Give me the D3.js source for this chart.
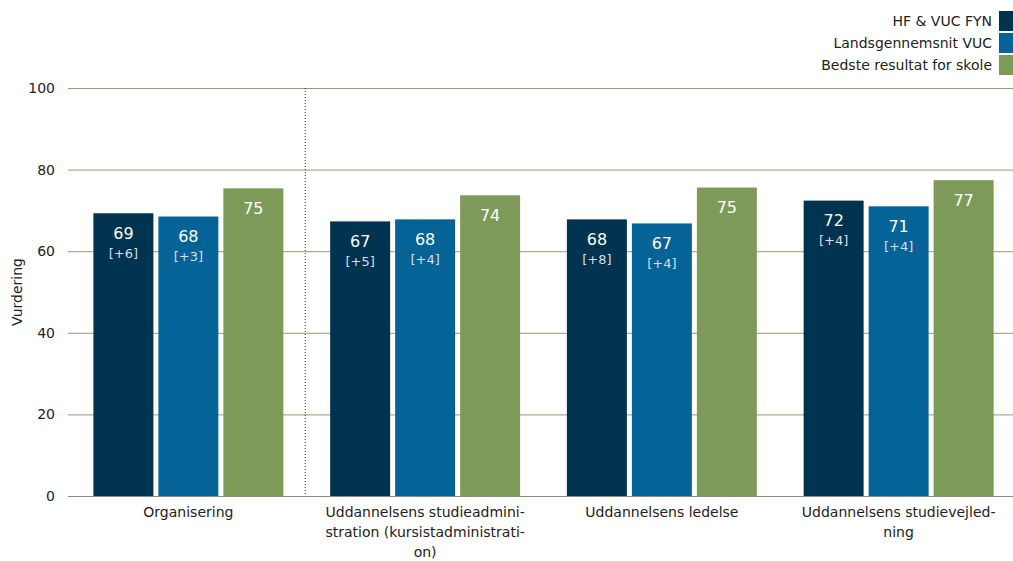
<!DOCTYPE html>
<html>
<head>
<meta charset="utf-8">
<script src="https://cdn.jsdelivr.net/npm/d3@7"></script>
<style>
  body { margin: 0; background: #fff; }
  text { font-family: "DejaVu Sans", Verdana, sans-serif; }
</style>
</head>
<body>
<div id="chart"></div>
<script>
var width = 1013,
    height = 561;

// data
var categories = [
  ["Organisering"],
  ["Uddannelsens studieadmini-", "stration (kursistadministrati-", "on)"],
  ["Uddannelsens ledelse"],
  ["Uddannelsens studievejled-", "ning"]
];
var seriesNames = ["HF & VUC FYN", "Landsgennemsnit VUC", "Bedste resultat for skole"];
var fynValues = [69.3, 67.3, 67.8, 72.4];
var landsValues = [68.5, 67.8, 66.8, 71.0];
var bedsteValues = [75.4, 73.7, 75.6, 77.4];
var fynLabels = ["69", "67", "68", "72"];
var landsLabels = ["68", "68", "67", "71"];
var bedsteLabels = ["75", "74", "75", "77"];
var fynDiff = ["[+6]", "[+5]", "[+8]", "[+4]"];
var landsDiff = ["[+3]", "[+4]", "[+4]", "[+4]"];
var yTicks = [0, 20, 40, 60, 80, 100];

var colors = ["#003350", "#066398", "#7e9a58"];

var svg = d3.select("#chart")
    .append("svg")
    .attr("width", width)
    .attr("height", height);

var x0 = d3.scaleBand()
    .domain(d3.range(categories.length))
    .range([70, 1017])
    .paddingInner(0)
    .paddingOuter(0);

var x1 = d3.scaleBand()
    .domain(d3.range(3))
    .range([0, x0.bandwidth()])
    .paddingInner(0.077)
    .paddingOuter(0.36);

var y = d3.scaleLinear()
    .domain([0, 100])
    .range([496, 88]);

// gridlines
svg.append("g")
  .selectAll("line")
  .data(yTicks)
  .enter().append("line")
    .attr("x1", 68)
    .attr("x2", width)
    .attr("y1", function(d) { return y(d) + 0.5; })
    .attr("y2", function(d) { return y(d) + 0.5; })
    .attr("stroke", function(d) { return d === 0 ? "#8a8a80" : "#a39472"; })
    .attr("stroke-width", 1);

// y tick labels
svg.append("g")
  .selectAll("text")
  .data(yTicks)
  .enter().append("text")
    .attr("x", 55)
    .attr("y", function(d) { return y(d); })
    .attr("dy", "0.35em")
    .attr("text-anchor", "end")
    .attr("font-size", 14)
    .attr("fill", "#222")
    .text(function(d) { return d; });

svg.append("text")
    .attr("transform", "translate(22," + y(50) + ") rotate(-90)")
    .attr("text-anchor", "middle")
    .attr("font-size", 14)
    .attr("fill", "#222")
    .text("Vurdering");

// dotted separator
svg.append("line")
    .attr("x1", x0(1) - 1.5)
    .attr("x2", x0(1) - 1.5)
    .attr("y1", y(100))
    .attr("y2", y(0))
    .attr("stroke", "#333")
    .attr("stroke-dasharray", "1,2");

var series = [
  { values: fynValues, labels: fynLabels, diff: fynDiff },
  { values: landsValues, labels: landsLabels, diff: landsDiff },
  { values: bedsteValues, labels: bedsteLabels, diff: null }
];

var groups = svg.selectAll(".group")
    .data(categories)
    .enter().append("g")
      .attr("class", "group")
      .attr("transform", function(d, i) { return "translate(" + x0(i) + ",0)"; });

groups.each(function(cat, i) {
  var g = d3.select(this);
  series.forEach(function(s, j) {
    var bx = x1(j), bw = x1.bandwidth(), top = y(s.values[i]);
    g.append("rect")
      .attr("x", bx)
      .attr("y", top)
      .attr("width", bw)
      .attr("height", y(0) - top)
      .attr("fill", colors[j]);
    g.append("text")
      .attr("x", bx + bw / 2)
      .attr("y", top + 20)
      .attr("dy", "0.35em")
      .attr("text-anchor", "middle")
      .attr("font-size", 16)
      .attr("fill", "#fff")
      .text(s.labels[i]);
    if (s.diff) {
      g.append("text")
        .attr("x", bx + bw / 2)
        .attr("y", top + 40)
        .attr("dy", "0.35em")
        .attr("text-anchor", "middle")
        .attr("font-size", 13)
        .attr("fill", "#d8dee6")
        .text(s.diff[i]);
    }
  });

  g.append("text")
    .attr("text-anchor", "middle")
    .attr("font-size", 14)
    .attr("fill", "#222")
    .selectAll("tspan")
    .data(cat)
    .enter().append("tspan")
      .attr("x", x0.bandwidth() / 2)
      .attr("y", function(d, k) { return 517 + k * 20; })
      .text(function(d) { return d; });
});

// legend
var legend = svg.append("g")
  .selectAll("g")
  .data(seriesNames)
  .enter().append("g")
    .attr("transform", function(d, i) { return "translate(0," + (11 + i * 22) + ")"; });

legend.append("rect")
    .attr("x", 999)
    .attr("y", 0)
    .attr("width", 20)
    .attr("height", 20)
    .attr("fill", function(d, i) { return colors[i]; });

legend.append("text")
    .attr("x", 992)
    .attr("y", 10)
    .attr("dy", "0.35em")
    .attr("text-anchor", "end")
    .attr("font-size", 14)
    .attr("fill", "#222")
    .text(function(d) { return d; });
</script>
</body>
</html>
